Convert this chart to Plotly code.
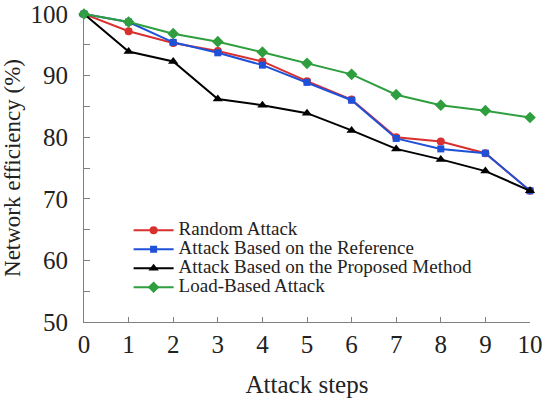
import plotly.graph_objects as go

steps = list(range(11))
random_attack = [100, 97.2, 95.3, 94.0, 92.3, 89.1, 86.1, 80.0, 79.3, 77.4, 71.3]
reference_attack = [100, 98.7, 95.4, 93.7, 91.7, 88.9, 86.0, 79.8, 78.1, 77.4, 71.3]
proposed_attack = [100, 93.9, 92.3, 86.2, 85.2, 83.9, 81.1, 78.1, 76.4, 74.5, 71.3]
load_attack = [100, 98.7, 96.8, 95.5, 93.8, 92.0, 90.2, 86.9, 85.2, 84.3, 83.2]

series = [
    ('Random Attack', random_attack, '#d8302e', 'circle', 8),
    ('Attack Based on the Reference', reference_attack, '#1f50d8', 'square', 7),
    ('Attack Based on the Proposed Method', proposed_attack, '#000000', 'triangle-up', 9),
    ('Load-Based Attack', load_attack, '#2e9e3e', 'diamond', 9),
]

fig = go.Figure()
for name, vals, col, sym, sz in series:
    # larger text inside a small legend font keeps the rows tight
    fig.add_trace(go.Scatter(x=steps, y=vals, mode='lines+markers',
                             name='<span style="font-size:19px">%s</span>' % name,
                             line=dict(color=col, width=2),
                             marker=dict(symbol=sym, size=sz, color=col),
                             cliponaxis=False))

font = 'Liberation Serif, Times New Roman, serif'
fig.update_layout(
    width=550, height=401,
    margin=dict(l=84, r=20, t=14, b=79),
    plot_bgcolor='white', paper_bgcolor='white',
    font=dict(family=font, color='#222222', size=24),
    showlegend=True,
    legend=dict(x=0.1, y=0.345, xanchor='left', yanchor='top',
                bgcolor='rgba(0,0,0,0)', font=dict(size=11, family=font),
                tracegroupgap=0, itemwidth=40),
    xaxis=dict(range=[0, 10], dtick=1, showline=True, linecolor='#808080', linewidth=1,
               ticks='inside', ticklen=5, tickcolor='#808080', showgrid=False, zeroline=False,
               automargin=False,
               title=dict(text='Attack steps', standoff=18, font=dict(size=25)),
               tickfont=dict(size=25)),
    yaxis=dict(range=[50, 100], dtick=10, showline=True, linecolor='#808080', linewidth=1,
               ticks='inside', ticklen=6, tickcolor='#808080', showgrid=False, zeroline=False,
               automargin=False, ticklabelstandoff=10, ticklabeloverflow='allow',
               minor=dict(dtick=5, ticks='inside', ticklen=6, tickcolor='#808080'),
               title=dict(text='Network efficiency (%)', standoff=4, font=dict(size=23)),
               tickfont=dict(size=25)),
)

# drop the default 8px page margin so the figure fills the window
fig.write_html('out.html', config={'displayModeBar': False},
               post_script="document.body.style.margin='0';")
